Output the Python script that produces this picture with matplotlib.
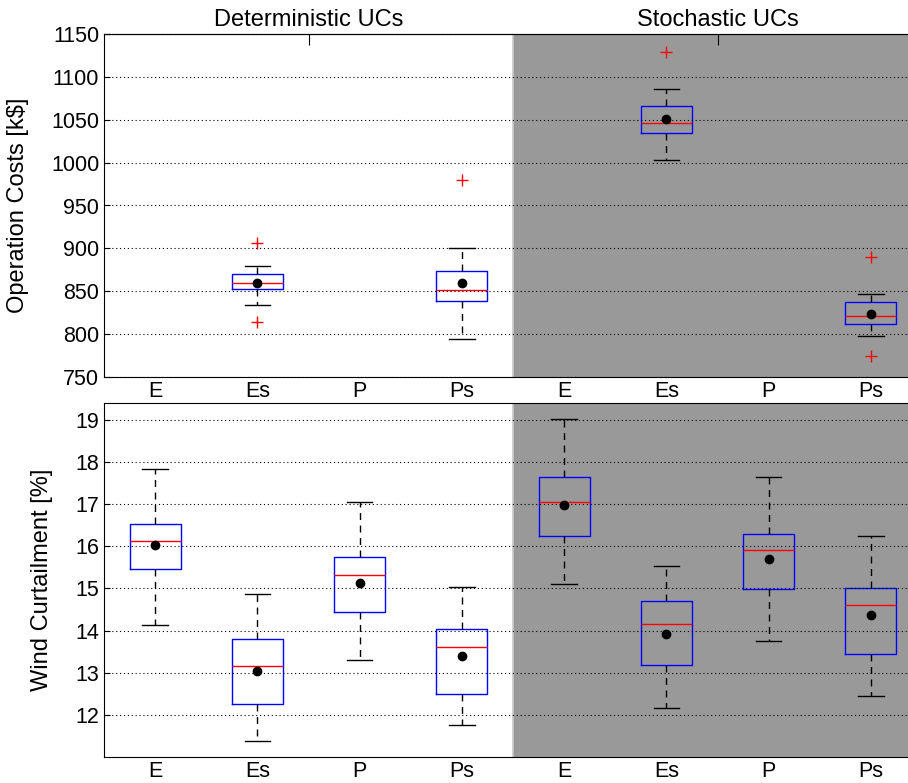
import numpy as np
import matplotlib.pyplot as plt

plt.rcParams['font.family'] = ['Liberation Sans', 'DejaVu Sans']

# categories on the x axis (deterministic block, then stochastic block)
labels = ["E", "Es", "P", "Ps", "E", "Es", "P", "Ps"]
groups = ["Deterministic UCs", "Stochastic UCs"]

# operation costs [k$] - only Es and Ps have boxes
cost_pos = [2, 4, 6, 8]
cost_q1 = [853.0, 838.6, 1034.5, 812.2]
cost_med = [859.6, 851.8, 1046.6, 821.2]
cost_q3 = [869.7, 874.0, 1066.4, 837.1]
cost_lo = [834.0, 794.0, 1003.0, 797.8]
cost_hi = [879.8, 900.4, 1085.9, 846.4]
cost_mean = [859.6, 859.6, 1050.5, 823.5]
cost_out = [[906.6, 814.5], [980.0], [1129.4], [890.3, 774.0]]

# wind curtailment [%]
wind_pos = [1, 2, 3, 4, 5, 6, 7, 8]
wind_q1 = [15.47, 12.26, 14.44, 12.50, 16.24, 13.18, 14.99, 13.45]
wind_med = [16.12, 13.15, 15.32, 13.61, 17.04, 14.15, 15.90, 14.61]
wind_q3 = [16.54, 13.80, 15.74, 14.03, 17.65, 14.70, 16.30, 15.01]
wind_lo = [14.14, 11.39, 13.30, 11.76, 15.11, 12.17, 13.75, 12.45]
wind_hi = [17.83, 14.86, 17.06, 15.04, 19.02, 15.54, 17.64, 16.25]
wind_mean = [16.04, 13.04, 15.13, 13.39, 16.98, 13.91, 15.71, 14.36]


def make_stats(q1, med, q3, lo, hi, mean, out=None):
    stats = []
    for i in range(len(q1)):
        stats.append({"q1": q1[i], "med": med[i], "q3": q3[i],
                      "whislo": lo[i], "whishi": hi[i], "mean": mean[i],
                      "fliers": out[i] if out else []})
    return stats


def draw_boxes(ax, stats, pos):
    ax.bxp(stats, positions=pos, widths=0.5, showmeans=True,
           boxprops=dict(color="blue", linewidth=1.0),
           medianprops=dict(color="red", linewidth=1.0),
           whiskerprops=dict(color="black", linewidth=1.0, linestyle=(0, (5, 4))),
           capprops=dict(color="black", linewidth=1.0),
           capwidths=0.25,
           meanprops=dict(marker="o", markerfacecolor="black",
                          markeredgecolor="black", markersize=6),
           flierprops=dict(marker="+", markeredgecolor="red",
                           markersize=8, linestyle="none"),
           manage_ticks=False)


def style_axes(ax, ylabel, xlab):
    ax.axvspan(4.5, 8.5, color="#999999", zorder=0, lw=0)
    ax.axvline(4.5, color="#c8c8c8", lw=1.2, zorder=0.5)
    ax.set_xlim(0.5, 8.5)
    ax.set_xticks(range(1, 9))
    ax.set_xticklabels(labels)
    ax.tick_params(axis="x", length=0, labelsize=15.5, pad=3)
    ax.tick_params(axis="y", direction="in", length=4, labelsize=15.5)
    ax.yaxis.grid(True, linestyle=(0, (1, 2.5)), color="black", linewidth=0.8)
    ax.set_axisbelow(False)
    ax.set_ylabel(ylabel, fontsize=17)
    ax.yaxis.set_label_coords(xlab, 0.5)
    ax.spines["right"].set_visible(False)


fig = plt.figure(figsize=(9.08, 7.83), dpi=100)
ax1 = fig.add_axes([104 / 908, 1 - 377 / 783, 818 / 908, 343 / 783])
ax2 = fig.add_axes([104 / 908, 1 - 757 / 783, 818 / 908, 354 / 783])

draw_boxes(ax1, make_stats(cost_q1, cost_med, cost_q3, cost_lo, cost_hi,
                           cost_mean, cost_out), cost_pos)
style_axes(ax1, "Operation Costs [k$]", -0.092)
ax1.set_ylim(750, 1150)
ax1.set_yticks(np.arange(750, 1151, 50))

draw_boxes(ax2, make_stats(wind_q1, wind_med, wind_q3, wind_lo, wind_hi,
                           wind_mean), wind_pos)
style_axes(ax2, "Wind Curtailment [%]", -0.062)
ax2.set_ylim(11.0, 19.4)
ax2.set_yticks(np.arange(12, 20, 1))

# group titles on top of the upper panel
top = ax1.secondary_xaxis("top")
top.set_xticks([2.5, 6.5])
top.set_xticklabels(groups)
top.tick_params(direction="in", length=8, labelsize=17, pad=2)

fig.savefig("out.png", dpi=100)
